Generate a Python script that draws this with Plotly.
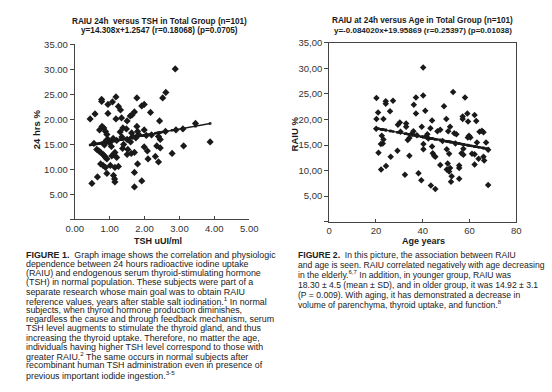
import plotly.graph_objects as go

# ---------------- data ----------------
tsh = [2.88, 0.44, 0.58, 0.77, 0.77, 0.95, 1.08, 1.18, 1.25, 1.31, 0.95, 1.18, 1.34, 1.50, 1.59,
       1.64, 1.71, 1.78, 1.92, 1.99, 2.17, 2.43, 2.52, 2.61, 3.46,
       0.71, 0.78, 0.83, 0.88, 0.92, 0.95, 1.38, 1.48, 1.63, 1.66, 1.78, 1.80, 1.83, 1.99, 2.40, 2.45,
       0.63, 0.69, 0.74, 0.81, 0.85, 0.88, 0.92, 1.06, 1.11, 1.15, 1.20, 1.37, 1.52, 1.50, 1.62, 1.71,
       1.99, 2.08, 2.35, 2.45, 2.10, 2.31, 2.40, 2.79, 3.12,
       0.74, 0.81, 0.88, 0.92, 1.02, 1.15, 1.25, 1.11, 1.14, 1.15, 0.65, 0.49, 1.71, 1.80, 1.92, 1.71,
       3.88, 2.60, 2.90, 3.10,
       0.55, 0.90, 1.00, 1.10, 1.20, 1.35, 1.50, 1.60, 1.75, 2.05, 2.20, 0.85, 1.05, 1.40, 1.30]
raiu_tsh = [30.1, 20.1, 21.1, 24.0, 23.6, 23.0, 23.5, 24.5, 22.6, 21.9, 21.2, 20.1, 20.3, 19.7, 20.7,
            20.9, 21.5, 24.3, 22.7, 23.0, 21.4, 19.7, 24.3, 25.4, 19.2,
            17.9, 18.6, 18.3, 17.6, 17.0, 16.0, 18.3, 18.1, 17.3, 16.6, 18.6, 17.6, 17.0, 17.9, 16.6, 16.0,
            14.0, 13.7, 13.4, 13.0, 12.7, 12.4, 12.1, 12.7, 13.0, 13.4, 12.4, 14.2, 14.0, 13.0, 13.2, 13.4,
            14.5, 13.7, 14.7, 14.3, 12.1, 12.6, 11.5, 13.2, 14.7,
            11.1, 10.8, 10.4, 9.2, 10.8, 10.4, 10.6, 8.8, 8.1, 7.5, 8.5, 7.2, 9.4, 11.1, 7.7, 6.5,
            15.5, 17.6, 17.9, 18.1,
            15.2, 15.8, 15.3, 16.2, 15.8, 16.5, 16.0, 15.5, 16.3, 16.8, 16.9, 14.9, 14.6, 15.0, 17.5]

age = [20.2, 20.9, 20.2, 23.2, 24.2, 24.2, 26.0, 27.3, 30.2, 32.9, 36.2, 37.1, 37.1, 40.2, 40.2,
       41.1, 44.0, 49.1, 50.1, 53.0, 57.1, 57.1, 58.1, 59.1, 59.4, 62.2, 62.9,
       59.8, 60.4, 59.3, 64.3, 65.3, 66.0, 63.2, 67.1, 57.4, 56.6, 57.4, 61.1, 62.2, 63.9, 66.0, 66.3,
       62.2, 68.0, 68.0, 53.5,
       20.1, 22.5, 23.2, 22.9, 22.1, 21.1, 22.2, 24.3, 26.3, 29.2, 32.4, 33.6, 34.3, 34.3, 35.4, 36.0,
       38.2, 39.4, 40.3, 40.3, 42.4, 42.0, 43.5, 44.0, 44.3, 44.9, 45.4, 45.4, 46.3, 47.5, 50.3, 51.3,
       50.7, 51.7, 50.3, 51.3, 52.4, 52.1, 55.6, 55.6, 55.6, 54.4, 50.9, 51.7, 47.5, 43.3, 39.6, 32.9,
       29.4,
       30.5, 37.5, 41.5, 48.5, 54.0]
raiu_age = [24.2, 21.4, 20.1, 20.1, 23.6, 23.1, 21.6, 23.7, 19.4, 19.2, 22.9, 24.3, 21.2, 30.2, 24.7,
            21.7, 19.8, 22.6, 20.1, 25.4, 20.6, 20.1, 24.3, 21.2, 19.6, 20.9, 19.7,
            16.8, 16.5, 16.5, 17.6, 17.8, 17.5, 15.5, 15.5, 14.3, 13.4, 13.1, 13.3, 13.2, 12.3, 12.7, 12.0,
            11.2, 7.2, 14.1, 17.3,
            18.2, 16.8, 16.1, 15.3, 15.2, 13.5, 10.2, 10.9, 12.7, 13.9, 9.2, 16.0, 16.4, 12.9, 17.2, 17.7,
            9.5, 8.1, 15.2, 14.2, 16.3, 17.1, 7.1, 14.7, 13.4, 12.9, 12.7, 6.4, 17.7, 11.1, 14.2, 13.3,
            11.4, 10.5, 10.2, 9.8, 8.9, 7.8, 11.0, 10.5, 8.4, 17.1, 17.7, 18.6, 18.0, 18.3, 18.6, 18.6,
            19.0,
            17.6, 16.9, 16.7, 15.8, 15.3]

fit1_intercept, fit1_slope = 14.308, 1.2547
fit2_intercept, fit2_slope = 19.95869, -0.084020

y_ticks = [0, 5, 10, 15, 20, 25, 30, 35]
y_ticktext1 = ["", "5.00", "10.00", "15.00", "20.00", "25.00", "30.00", "35.00"]
y_ticktext2 = ["", "5,00", "10,00", "15,00", "20,00", "25,00", "30,00", "35,00"]
x1_ticks = [0, 1, 2, 3, 4, 5]
x1_ticktext = ["0.00", "1.00", "2.00", "3.00", "4.00", "5.00"]
x2_ticks = [0, 20, 40, 60, 80]
x2_ticktext = ["0", "20", "40", "60", "80"]

title1 = ["RAIU 24h  versus TSH in Total Group (n=101)", "y=14.308x+1.2547 (r=0.18068) (p=0.0705)"]
title2 = ["RAIU at 24h versus Age in Total Group (n=101)", "y=-0.084020x+19.95869 (r=0.25397) (p=0.01038)"]

caption1 = [
    "<b>FIGURE 1.</b>  Graph image shows the correlation and physiologic",
    "dependence between 24 hours radioactive iodine uptake",
    "(RAIU) and endogenous serum thyroid-stimulating hormone",
    "(TSH) in normal population. These subjects were part of a",
    "separate research whose main goal was to obtain RAIU",
    "reference values, years after stable salt iodination.<sup>1</sup> In normal",
    "subjects, when thyroid hormone production diminishes,",
    "regardless the cause and through feedback mechanism, serum",
    "TSH level augments to stimulate the thyroid gland, and thus",
    "increasing the thyroid uptake. Therefore, no matter the age,",
    "individuals having higher TSH level correspond to those with",
    "greater RAIU.<sup>2</sup> The same occurs in normal subjects after",
    "recombinant human TSH administration even in presence of",
    "previous important iodide ingestion.<sup>3-5</sup>",
]
caption2 = [
    "<b>FIGURE 2.</b>  In this picture, the association between RAIU",
    "and age is seen. RAIU correlated negatively with age decreasing",
    "in the elderly.<sup>6,7</sup> In addition, in younger group, RAIU was",
    "18.30 ± 4.5 (mean ± SD), and in older group, it was 14.92 ± 3.1",
    "(P = 0.009). With aging, it has demonstrated a decrease in",
    "volume of parenchyma, thyroid uptake, and function.<sup>8</sup>",
]

# ---------------- figure ----------------
W, H = 552, 392
FONT = "Liberation Sans"
INK = "#1a1a1a"

fig = go.Figure()

fig.add_trace(go.Scatter(x=tsh, y=raiu_tsh, mode="markers", xaxis="x", yaxis="y",
                         marker=dict(symbol="diamond", size=5.5, color=INK)))
s1 = sorted(tsh)
fig.add_trace(go.Scatter(x=s1, y=[fit1_intercept + fit1_slope * v for v in s1], mode="lines+markers",
                         xaxis="x", yaxis="y", line=dict(color=INK, width=1.3),
                         marker=dict(symbol="square", size=2.5, color=INK)))

fig.add_trace(go.Scatter(x=age, y=raiu_age, mode="markers", xaxis="x2", yaxis="y2",
                         marker=dict(symbol="diamond", size=5, color=INK)))
s2 = sorted(age)
fig.add_trace(go.Scatter(x=s2, y=[fit2_intercept + fit2_slope * v for v in s2], mode="lines+markers",
                         xaxis="x2", yaxis="y2", line=dict(color=INK, width=1.3),
                         marker=dict(symbol="square", size=2.5, color=INK)))

axis_common = dict(showgrid=False, zeroline=False, showline=True, linecolor="#444", linewidth=1,
                   tickcolor="#444", tickwidth=1,
                   tickfont=dict(family=FONT, size=9.5, color="#333"))

fig.update_layout(
    width=W, height=H, margin=dict(l=0, r=0, t=0, b=0),
    paper_bgcolor="white", plot_bgcolor="white", showlegend=False,
    xaxis=dict(domain=[68 / W, 248.3 / W], range=[0, 5], tickvals=x1_ticks, ticktext=x1_ticktext,
               ticks="inside", ticklen=3, anchor="y", **axis_common),
    yaxis=dict(domain=[1 - 216.7 / H, 1 - 39 / H], range=[0, 35], tickvals=y_ticks, ticktext=y_ticktext1,
               ticks="outside", ticklen=4, anchor="x", **axis_common),
    xaxis2=dict(domain=[331 / W, 524.3 / W], range=[0, 80], tickvals=x2_ticks, ticktext=x2_ticktext,
                ticks="inside", ticklen=3, anchor="y2", mirror=True, **axis_common),
    yaxis2=dict(domain=[1 - 219 / H, 1 - 37.5 / H], range=[0, 35], tickvals=y_ticks, ticktext=y_ticktext2,
                ticks="outside", ticklen=4, anchor="x2", mirror=True, **axis_common),
)

ann = []
def txt(text, px, py, size, xanchor="center", bold=False, angle=0, color=INK):
    ann.append(dict(text=("<b>%s</b>" % text) if bold else text, x=px / W, y=1 - py / H,
                    xref="paper", yref="paper", xanchor=xanchor, yanchor="middle", showarrow=False,
                    textangle=angle, font=dict(family=FONT, size=size, color=color)))

txt(title1[0], 155.5, 15.5, 8.2, bold=True)
txt(title1[1], 155.5, 25.0, 8.2, bold=True)
txt(title2[0], 427.5, 15.0, 8.2, bold=True)
txt(title2[1], 427.5, 24.5, 8.0, bold=True)
txt("24 hrs %", 28, 125, 9.5, bold=True, angle=-90)
txt("RAIU %", 295, 130, 9.5, bold=True, angle=-90)
txt("TSH uUI/ml", 154.5, 239, 9, bold=True)
txt("Age years", 428.5, 239, 9, bold=True)

for i, line in enumerate(caption1):
    txt(line, 16, 252.7 + i * 9.35, 8.9, xanchor="left", color="#222")
for i, line in enumerate(caption2):
    txt(line, 297, 252.7 + i * 10.1, 8.6, xanchor="left", color="#222")

fig.update_layout(annotations=ann)
fig.write_html("out.html", config={"displayModeBar": False},
               post_script="document.body.style.margin='0';document.body.style.padding='0';"
                           "document.documentElement.style.overflow='hidden';")
